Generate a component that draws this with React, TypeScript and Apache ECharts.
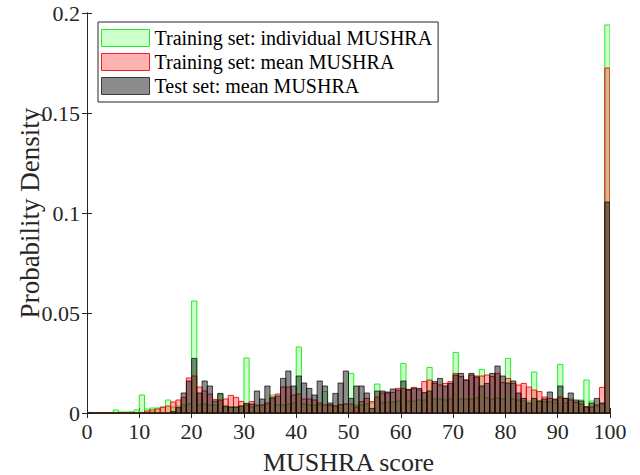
import React, { useEffect, useRef } from "react";
import * as echarts from "echarts";

// Histogram bins: width 1, from 0 to 100 (bin k covers [k, k+1])
const BIN_WIDTH = 1;
const X_TICKS = [0, 10, 20, 30, 40, 50, 60, 70, 80, 90, 100];
const Y_TICKS = [0, 0.05, 0.1, 0.15, 0.2];

const SERIES_NAMES = [
  "Training set: individual MUSHRA",
  "Training set: mean MUSHRA",
  "Test set: mean MUSHRA",
];

// Training set: individual MUSHRA (bins 0..99)
const trainIndividual = [
  0.0003, 0, 0, 0, 0.0002, 0.0015, 0.0005, 0.0005, 0.0006, 0.0015,
  0.009, 0.002, 0.0025, 0.0025, 0.0028, 0.0065, 0.003, 0.0035, 0.004, 0.0045,
  0.056, 0.004, 0.0045, 0.004, 0.004, 0.0095, 0.003, 0.003, 0.003, 0.0035,
  0.0275, 0.003, 0.0035, 0.004, 0.0045, 0.009, 0.004, 0.004, 0.0045, 0.005,
  0.033, 0.0045, 0.004, 0.004, 0.004, 0.0107, 0.004, 0.0035, 0.004, 0.0045,
  0.0198, 0.004, 0.004, 0.0045, 0.005, 0.0145, 0.005, 0.0055, 0.0055, 0.006,
  0.0248, 0.006, 0.006, 0.0065, 0.0065, 0.0228, 0.007, 0.007, 0.0065, 0.007,
  0.0303, 0.007, 0.007, 0.007, 0.0075, 0.0218, 0.0075, 0.007, 0.0075, 0.007,
  0.0273, 0.007, 0.0065, 0.006, 0.006, 0.0205, 0.006, 0.0055, 0.0055, 0.005,
  0.0243, 0.005, 0.007, 0.0055, 0.0065, 0.0165, 0.006, 0.0035, 0.0045, 0.194,
];

// Training set: mean MUSHRA
const trainMean = [
  0, 0, 0, 0, 0, 0, 0, 0, 0, 0,
  0, 0.001, 0.0015, 0.002, 0.003, 0.0035, 0.0055, 0.0065, 0.0078, 0.0175,
  0.0185, 0.013, 0.011, 0.0095, 0.0068, 0.0065, 0.007, 0.0088, 0.0078, 0.0058,
  0.004, 0.0057, 0.004, 0.004, 0.005, 0.008, 0.0095, 0.013, 0.013, 0.009,
  0.0095, 0.007, 0.007, 0.0065, 0.005, 0.004, 0.004, 0.0035, 0.0042, 0.0045,
  0.0045, 0.003, 0.0057, 0.0073, 0.0057, 0.008, 0.01, 0.01, 0.0103, 0.0123,
  0.0123, 0.0115, 0.0128, 0.0115, 0.0157, 0.0165, 0.0148, 0.014, 0.0148, 0.0157,
  0.0198, 0.0182, 0.0165, 0.019, 0.0185, 0.0185, 0.019, 0.0182, 0.0198, 0.0152,
  0.0173, 0.0148, 0.014, 0.0148, 0.013, 0.0115, 0.0107, 0.008, 0.0073, 0.0065,
  0.008, 0.0073, 0.0065, 0.0052, 0.0045, 0.0032, 0.003, 0.004, 0.0128, 0.1725,
];

// Test set: mean MUSHRA
const testMean = [
  0, 0, 0, 0, 0, 0, 0, 0, 0, 0,
  0, 0, 0, 0, 0, 0, 0.0007, 0.0027, 0.01, 0.016,
  0.0273, 0.01, 0.016, 0.0135, 0.006, 0.0098, 0.0035, 0.003, 0.003, 0.0035,
  0.0048, 0.0045, 0.011, 0.007, 0.0135, 0.0075, 0.0085, 0.0173, 0.021, 0.0135,
  0.0185, 0.015, 0.0123, 0.009, 0.016, 0.0135, 0.005, 0.0098, 0.015, 0.021,
  0.0073, 0.0135, 0.0135, 0.01, 0.0023, 0.011, 0.011, 0.0105, 0.012, 0.0115,
  0.016, 0.0118, 0.0123, 0.0123, 0.0102, 0.011, 0.0157, 0.0173, 0.0135, 0.0148,
  0.019, 0.0198, 0.0165, 0.0198, 0.018, 0.0135, 0.0148, 0.0198, 0.0235, 0.0185,
  0.015, 0.016, 0.01, 0.0073, 0.005, 0.0073, 0.006, 0.007, 0.0105, 0.007,
  0.0135, 0.0073, 0.01, 0.0065, 0.006, 0.003, 0.005, 0.0073, 0.005, 0.1055,
];

const FILLS = ["rgba(0,255,0,0.2)", "rgba(255,0,0,0.3)", "rgba(0,0,0,0.45)"];
const EDGES = ["rgba(0,235,0,0.85)", "rgba(240,0,0,0.85)", "rgba(0,0,0,0.7)"];
const AXIS_COLOR = "#262626";
const FONT = "Liberation Serif";

function toData(values: number[]) {
  return values.map((v, k) => [k * BIN_WIDTH, v]);
}

export default function App() {
  const ref = useRef<HTMLDivElement>(null);

  useEffect(() => {
    if (!ref.current) return;
    const chart = echarts.init(ref.current, undefined, { renderer: "svg" });

    const makeSeries = (idx: number, values: number[]) => ({
      type: "custom",
      name: SERIES_NAMES[idx],
      xAxisIndex: 0,
      yAxisIndex: 0,
      clip: true,
      itemStyle: { color: FILLS[idx], borderColor: EDGES[idx], borderWidth: 1 },
      renderItem: (params: any, api: any) => {
        const x0 = api.value(0);
        const v = api.value(1);
        const p0 = api.coord([x0, v]);
        const p1 = api.coord([x0 + BIN_WIDTH, 0]);
        return {
          type: "rect",
          shape: { x: p0[0], y: p0[1], width: p1[0] - p0[0], height: p1[1] - p0[1] },
          style: { fill: FILLS[idx], stroke: EDGES[idx], lineWidth: 1 },
        };
      },
      data: toData(values),
    });

    const tickStyle = { show: true, inside: true, length: 5, lineStyle: { color: AXIS_COLOR, width: 1 } };
    const lineStyle = { show: true, lineStyle: { color: AXIS_COLOR, width: 1 } };

    chart.setOption({
      animation: false,
      backgroundColor: "#ffffff",
      textStyle: { fontFamily: FONT },
      grid: {
        left: 87,
        right: 30,
        top: 13,
        bottom: 62,
        containLabel: false,
        outerBoundsMode: "none",
      },
      legend: {
        show: true,
        orient: "vertical",
        left: 98,
        top: 22,
        padding: [6, 6, 6, 3],
        itemWidth: 48,
        itemHeight: 17,
        itemGap: 4,
        backgroundColor: "#ffffff",
        borderColor: AXIS_COLOR,
        borderWidth: 1,
        textStyle: { fontFamily: FONT, fontSize: 20, color: "#000000", lineHeight: 20 },
        data: SERIES_NAMES.map((n, i) => ({
          name: n,
          icon: "rect",
          itemStyle: { color: FILLS[i], borderColor: EDGES[i], borderWidth: 1 },
        })),
      },
      xAxis: [
        {
          type: "value",
          min: X_TICKS[0],
          max: X_TICKS[X_TICKS.length - 1],
          interval: X_TICKS[1] - X_TICKS[0],
          position: "bottom",
          name: "MUSHRA score",
          nameLocation: "middle",
          nameGap: 36,
          nameTextStyle: { fontFamily: FONT, fontSize: 26, color: AXIS_COLOR },
          axisLine: lineStyle,
          axisTick: tickStyle,
          splitLine: { show: false },
          axisLabel: { fontFamily: FONT, fontSize: 22, color: AXIS_COLOR, margin: 7 },
        },
        {
          type: "value",
          min: X_TICKS[0],
          max: X_TICKS[X_TICKS.length - 1],
          interval: X_TICKS[1] - X_TICKS[0],
          position: "top",
          axisLine: lineStyle,
          axisTick: tickStyle,
          splitLine: { show: false },
          axisLabel: { show: false },
        },
      ],
      yAxis: [
        {
          type: "value",
          min: Y_TICKS[0],
          max: Y_TICKS[Y_TICKS.length - 1],
          interval: Y_TICKS[1] - Y_TICKS[0],
          position: "left",
          name: "Probability Density",
          nameLocation: "middle",
          nameGap: 44,
          nameMoveOverlap: false,
          nameTextStyle: { fontFamily: FONT, fontSize: 27, color: AXIS_COLOR },
          axisLine: lineStyle,
          axisTick: tickStyle,
          splitLine: { show: false },
          axisLabel: { fontFamily: FONT, fontSize: 22, color: AXIS_COLOR, margin: 7 },
        },
        {
          type: "value",
          min: Y_TICKS[0],
          max: Y_TICKS[Y_TICKS.length - 1],
          interval: Y_TICKS[1] - Y_TICKS[0],
          position: "right",
          axisLine: lineStyle,
          axisTick: tickStyle,
          splitLine: { show: false },
          axisLabel: { show: false },
        },
      ],
      series: [
        makeSeries(0, trainIndividual),
        makeSeries(1, trainMean),
        makeSeries(2, testMean),
      ],
    });

    return () => chart.dispose();
  }, []);

  return <div ref={ref} style={{ width: 640, height: 475, position: "absolute", left: 0, top: 0 }} />;
}
